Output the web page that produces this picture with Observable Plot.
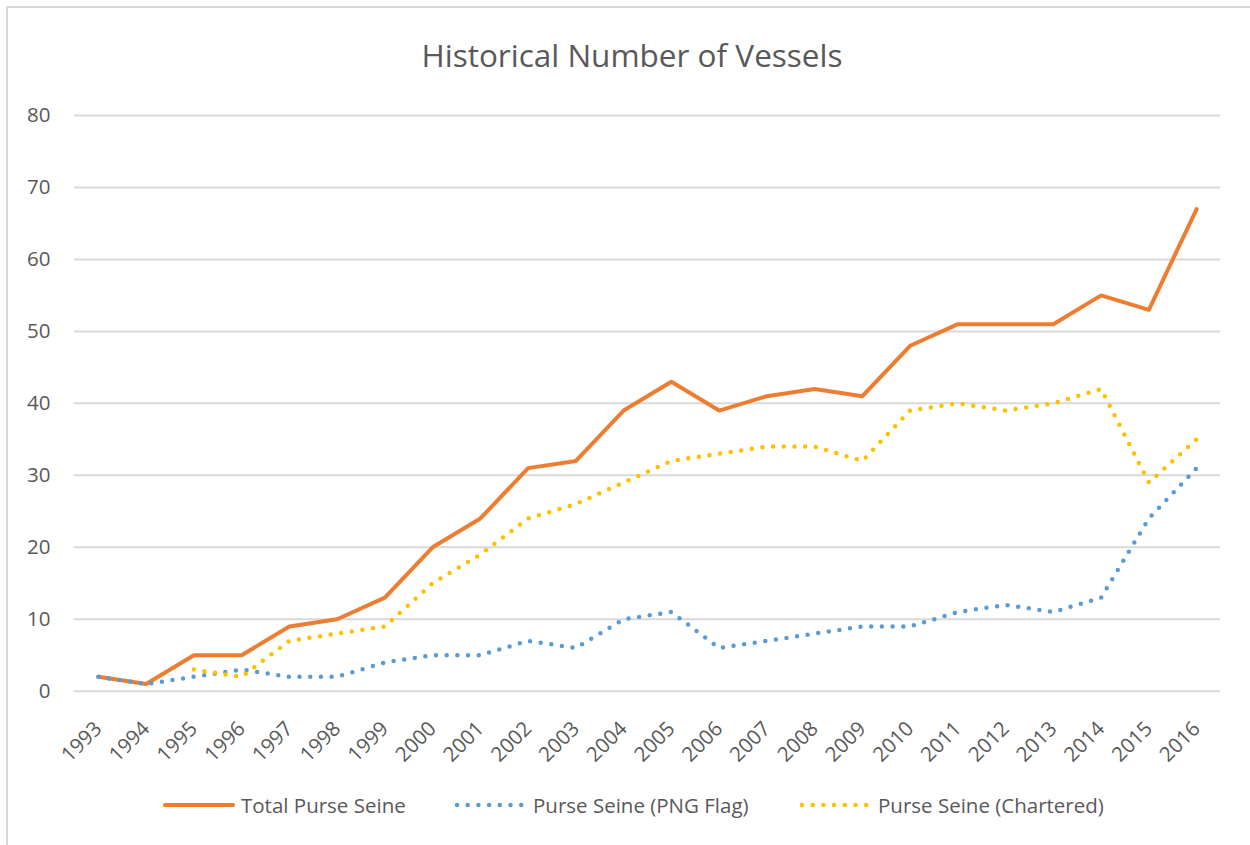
<!DOCTYPE html>
<html>
<head>
<meta charset="utf-8">
<script src="https://cdn.jsdelivr.net/npm/d3@7"></script>
<script src="https://cdn.jsdelivr.net/npm/@observablehq/plot@0.6"></script>
<style>
  html, body { margin: 0; padding: 0; background: #fff; }
  #wrap { position: relative; width: 1250px; height: 845px; overflow: hidden; font-family: "Open Sans", sans-serif; color: #595959; }
  #frame { position: absolute; left: 6px; top: 6px; width: 1250px; height: 860px; border: 2px solid #d9d9d9; box-sizing: border-box; }
  #title { position: absolute; left: 7px; width: 1250px; top: 0; height: 90px; text-align: center; font-size: 31.5px; line-height: 1; padding-top: 39px; box-sizing: border-box; }
  #chart { position: absolute; left: 0; top: 90px; }
  #legend { position: absolute; left: 0; top: 790px; width: 1250px; height: 30px; font-size: 20.5px; }
  .item { position: absolute; top: 0; height: 30px; display: flex; align-items: center; }
  .item svg { margin-right: 6px; }
</style>
</head>
<body>
<div id="wrap">
  <div id="frame"></div>
  <div id="title">Historical Number of Vessels</div>
  <div id="chart"></div>
  <div id="legend"></div>
</div>
<script>
const years = [1993,1994,1995,1996,1997,1998,1999,2000,2001,2002,2003,2004,2005,2006,2007,2008,2009,2010,2011,2012,2013,2014,2015,2016];
const totalPurseSeine = [2,1,5,5,9,10,13,20,24,31,32,39,43,39,41,42,41,48,51,51,51,55,53,67];
const pngFlag = [2,1,2,3,2,2,4,5,5,7,6,10,11,6,7,8,9,9,11,12,11,13,24,31];
const chartered = [null,null,3,2,7,8,9,15,19,24,26,29,32,33,34,34,32,39,40,39,40,42,29,35];
const seriesNames = ["Total Purse Seine", "Purse Seine (PNG Flag)", "Purse Seine (Chartered)"];
const seriesColors = ["#ED7D31", "#5B9BD5", "#FFC000"];
const yTicks = [0,10,20,30,40,50,60,70,80];

const rows = (vals) => years.map((y, i) => ({year: String(y), value: vals[i]}));
const dataTotal = rows(totalPurseSeine);
const dataPng = rows(pngFlag);
const dataCh = rows(chartered);

const font = "Open Sans, sans-serif";
const chart = Plot.plot({
  width: 1250,
  height: 700,
  marginTop: 25,
  marginBottom: 99.3,
  marginLeft: 74,
  marginRight: 30,
  style: {fontFamily: font, fontSize: "20.5px", color: "#595959", background: "transparent"},
  x: {type: "point", domain: years.map(String), padding: 0.5, round: false, axis: null},
  y: {domain: [0, 80]},
  marks: [
    Plot.ruleY(yTicks, {stroke: "#d9d9d9", strokeWidth: 2}),
    Plot.axisY({ticks: yTicks, tickSize: 0, tickPadding: 24, fontSize: 20.5, fill: "#595959", label: null}),
    Plot.text(years, {x: d => String(d), y: () => 0, text: d => String(d), rotate: -45, textAnchor: "end", lineAnchor: "middle", dx: 0, dy: 34, fontSize: 20.5, fill: "#595959"}),
    Plot.line(dataTotal, {x: "year", y: "value", stroke: seriesColors[0], strokeWidth: 4, strokeLinejoin: "round", strokeLinecap: "round"}),
    Plot.line(dataPng, {x: "year", y: "value", stroke: seriesColors[1], strokeWidth: 4.5, strokeLinecap: "round", strokeDasharray: "0 10.7"}),
    Plot.line(dataCh.filter(d => d.value != null), {x: "year", y: "value", stroke: seriesColors[2], strokeWidth: 4.5, strokeLinecap: "round", strokeDasharray: "0 10.7"})
  ]
});
document.getElementById("chart").appendChild(chart);

// Legend
const legend = document.getElementById("legend");
const legendX = [163, 455, 800];
seriesNames.forEach((name, i) => {
  const item = document.createElement("div");
  item.className = "item";
  item.style.left = legendX[i] + "px";
  const dash = i === 0 ? "" : ' stroke-dasharray="0 10.7"';
  item.innerHTML = `<svg width="72" height="10"><line x1="2" y1="5" x2="70" y2="5" stroke="${seriesColors[i]}" stroke-width="${i===0?4:4.5}" stroke-linecap="round"${dash}/></svg><span>${name}</span>`;
  legend.appendChild(item);
});
</script>
</body>
</html>
